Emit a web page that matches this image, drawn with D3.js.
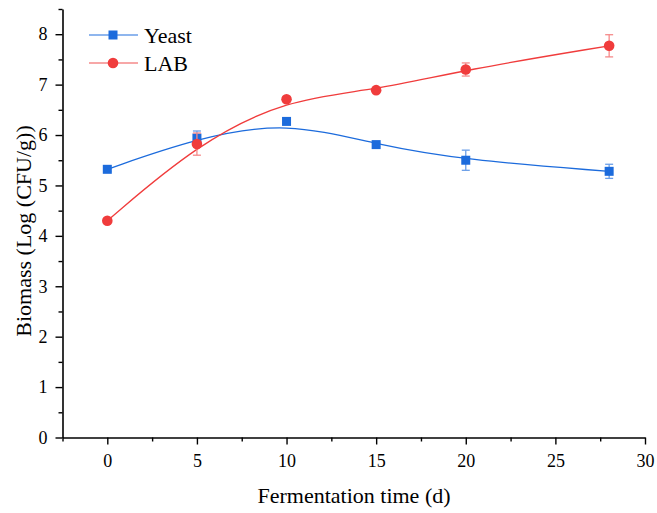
<!DOCTYPE html>
<html><head><meta charset="utf-8">
<script src="https://cdn.jsdelivr.net/npm/d3@7"></script>
<style>body{margin:0;background:#fff}svg{display:block}svg text{font-family:'Liberation Serif','Times New Roman',serif;fill:#000}</style>
</head><body><svg id="c" width="657" height="513"></svg>
<script>
const days = [0, 5, 10, 15, 20, 28];
const yeast = [5.32, 5.94, 6.27, 5.81, 5.50, 5.28];
const yeastErr = [0.04, 0.14, 0.05, 0.04, 0.20, 0.14];
const lab = [4.30, 5.82, 6.71, 6.89, 7.30, 7.77];
const labErr = [0.03, 0.22, 0.05, 0.04, 0.13, 0.22];
const xTicks = [0, 5, 10, 15, 20, 25, 30];
const yTicks = [0, 1, 2, 3, 4, 5, 6, 7, 8];
const seriesNames = ["Yeast", "LAB"];

const FONT = "'Liberation Serif', 'Times New Roman', serif";
const svg = d3.select("#c");
const x = d3.scaleLinear().domain([-2.5, 30]).range([62.5, 645]);
const y = d3.scaleLinear().domain([0, 8.5]).range([437.5, 9]);

const series = [
  {name: seriesNames[0], vals: yeast, err: yeastErr, color: "#1c6bdc", errColor: "#6a9ee8", shape: "square"},
  {name: seriesNames[1], vals: lab, err: labErr, color: "#f03c3c", errColor: "#f58a8a", shape: "circle"}
];

const xAxis = svg.append("g").attr("transform", "translate(0,437.5)")
  .call(d3.axisBottom(x).tickValues(xTicks).tickSize(7).tickSizeOuter(0).tickPadding(10));
const xMinor = svg.append("g").attr("transform", "translate(0,437.5)")
  .call(d3.axisBottom(x).tickValues(d3.range(-2.5, 30, 5)).tickSize(4).tickFormat(""));
const yAxis = svg.append("g").attr("transform", "translate(62.5,0)")
  .call(d3.axisLeft(y).tickValues(yTicks).tickSize(7).tickSizeOuter(0).tickPadding(8));
const yMinor = svg.append("g").attr("transform", "translate(62.5,0)")
  .call(d3.axisLeft(y).tickValues(d3.range(0.5, 8.6, 1)).tickSize(4).tickFormat(""));
[xAxis, xMinor, yAxis, yMinor].forEach(g => {
  g.attr("font-family", FONT).attr("font-size", 18);
  g.selectAll("path").attr("stroke", "#000").attr("stroke-width", 1.6);
  g.selectAll("line").attr("stroke", "#000").attr("stroke-width", 1.4);
  g.selectAll("text").attr("font-family", FONT).attr("font-size", 18).attr("fill", "#000");
});
xMinor.select("path").remove();
yMinor.select("path").remove();

svg.append("text").attr("x", 354).attr("y", 503).attr("text-anchor", "middle")
  .attr("font-family", FONT).attr("font-size", 22).text("Fermentation time (d)");
svg.append("text").attr("transform", "translate(31,231) rotate(-90)").attr("text-anchor", "middle")
  .attr("font-family", FONT).attr("font-size", 22).text("Biomass (Log (CFU/g))");

const line = d3.line().x((d, i) => x(days[i])).y(d => y(d)).curve(d3.curveBasis);

series.forEach(s => {
  const g = svg.append("g");
  g.append("path").attr("d", line(s.vals)).attr("fill", "none").attr("stroke", s.color).attr("stroke-width", 1.3);
  const eb = g.selectAll(".eb").data(s.vals).join("g").attr("stroke", s.errColor).attr("stroke-width", 1.3);
  eb.append("line").attr("x1", (d, i) => x(days[i])).attr("x2", (d, i) => x(days[i]))
    .attr("y1", (d, i) => y(d + s.err[i])).attr("y2", (d, i) => y(d - s.err[i]));
  eb.append("line").attr("x1", (d, i) => x(days[i]) - 4).attr("x2", (d, i) => x(days[i]) + 4)
    .attr("y1", (d, i) => y(d + s.err[i])).attr("y2", (d, i) => y(d + s.err[i]));
  eb.append("line").attr("x1", (d, i) => x(days[i]) - 4).attr("x2", (d, i) => x(days[i]) + 4)
    .attr("y1", (d, i) => y(d - s.err[i])).attr("y2", (d, i) => y(d - s.err[i]));
  if (s.shape === "square") {
    g.selectAll(".m").data(s.vals).join("rect").attr("x", (d, i) => x(days[i]) - 4.5).attr("y", d => y(d) - 4.5)
      .attr("width", 9).attr("height", 9).attr("fill", s.color);
  } else {
    g.selectAll(".m").data(s.vals).join("circle").attr("cx", (d, i) => x(days[i])).attr("cy", d => y(d))
      .attr("r", 5.3).attr("fill", s.color);
  }
});

series.forEach((s, k) => {
  const ly = 35 + k * 28;
  const g = svg.append("g");
  g.append("line").attr("x1", 89).attr("x2", 138).attr("y1", ly).attr("y2", ly).attr("stroke", s.errColor).attr("stroke-width", 1.3);
  if (s.shape === "square") g.append("rect").attr("x", 113 - 4.5).attr("y", ly - 4.5).attr("width", 9).attr("height", 9).attr("fill", s.color);
  else g.append("circle").attr("cx", 113).attr("cy", ly).attr("r", 5.3).attr("fill", s.color);
  g.append("text").attr("x", 144).attr("y", ly + 8).attr("font-family", FONT).attr("font-size", 22).text(s.name);
});
</script></body></html>
